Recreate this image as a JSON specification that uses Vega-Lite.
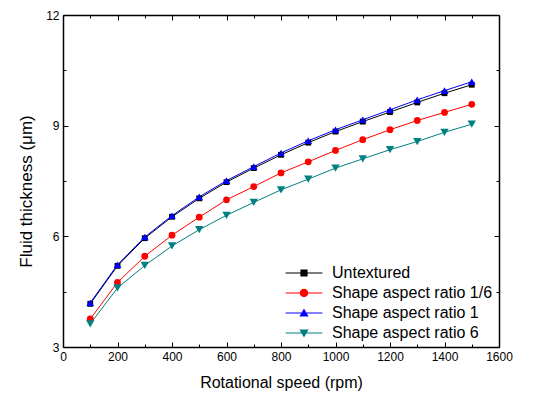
{
  "$schema": "https://vega.github.io/schema/vega-lite/v6.json",
  "width": 436,
  "height": 332,
  "autosize": {"type": "none"},
  "padding": {"left": 63, "top": 15, "right": 43, "bottom": 52},
  "config": {
    "font": "Liberation Sans",
    "view": {"stroke": null},
    "axis": {"grid": false, "domainColor": "#000000", "domainWidth": 1.5, "tickColor": "#000000", "tickWidth": 1, "labelColor": "#000000", "titleColor": "#000000", "labelFont": "Liberation Sans", "titleFont": "Liberation Sans", "titleFontWeight": "normal", "labelFontSize": 12, "titleFontSize": 16}
  },
  "data": {
    "values": [
      {"s": "Untextured", "x": 100, "y": 4.17}, {"s": "Untextured", "x": 200, "y": 5.2}, {"s": "Untextured", "x": 300, "y": 5.95}, {"s": "Untextured", "x": 400, "y": 6.53}, {"s": "Untextured", "x": 500, "y": 7.03}, {"s": "Untextured", "x": 600, "y": 7.47}, {"s": "Untextured", "x": 700, "y": 7.85}, {"s": "Untextured", "x": 800, "y": 8.21}, {"s": "Untextured", "x": 900, "y": 8.54}, {"s": "Untextured", "x": 1000, "y": 8.84}, {"s": "Untextured", "x": 1100, "y": 9.11}, {"s": "Untextured", "x": 1200, "y": 9.37}, {"s": "Untextured", "x": 1300, "y": 9.63}, {"s": "Untextured", "x": 1400, "y": 9.88}, {"s": "Untextured", "x": 1500, "y": 10.11},
      {"s": "Shape aspect ratio 1/6", "x": 100, "y": 3.76}, {"s": "Shape aspect ratio 1/6", "x": 200, "y": 4.75}, {"s": "Shape aspect ratio 1/6", "x": 300, "y": 5.46}, {"s": "Shape aspect ratio 1/6", "x": 400, "y": 6.03}, {"s": "Shape aspect ratio 1/6", "x": 500, "y": 6.52}, {"s": "Shape aspect ratio 1/6", "x": 600, "y": 6.99}, {"s": "Shape aspect ratio 1/6", "x": 700, "y": 7.35}, {"s": "Shape aspect ratio 1/6", "x": 800, "y": 7.72}, {"s": "Shape aspect ratio 1/6", "x": 900, "y": 8.02}, {"s": "Shape aspect ratio 1/6", "x": 1000, "y": 8.33}, {"s": "Shape aspect ratio 1/6", "x": 1100, "y": 8.62}, {"s": "Shape aspect ratio 1/6", "x": 1200, "y": 8.89}, {"s": "Shape aspect ratio 1/6", "x": 1300, "y": 9.14}, {"s": "Shape aspect ratio 1/6", "x": 1400, "y": 9.36}, {"s": "Shape aspect ratio 1/6", "x": 1500, "y": 9.58},
      {"s": "Shape aspect ratio 1", "x": 100, "y": 4.2}, {"s": "Shape aspect ratio 1", "x": 200, "y": 5.23}, {"s": "Shape aspect ratio 1", "x": 300, "y": 5.98}, {"s": "Shape aspect ratio 1", "x": 400, "y": 6.56}, {"s": "Shape aspect ratio 1", "x": 500, "y": 7.07}, {"s": "Shape aspect ratio 1", "x": 600, "y": 7.51}, {"s": "Shape aspect ratio 1", "x": 700, "y": 7.89}, {"s": "Shape aspect ratio 1", "x": 800, "y": 8.26}, {"s": "Shape aspect ratio 1", "x": 900, "y": 8.59}, {"s": "Shape aspect ratio 1", "x": 1000, "y": 8.89}, {"s": "Shape aspect ratio 1", "x": 1100, "y": 9.16}, {"s": "Shape aspect ratio 1", "x": 1200, "y": 9.43}, {"s": "Shape aspect ratio 1", "x": 1300, "y": 9.7}, {"s": "Shape aspect ratio 1", "x": 1400, "y": 9.95}, {"s": "Shape aspect ratio 1", "x": 1500, "y": 10.19},
      {"s": "Shape aspect ratio 6", "x": 100, "y": 3.63}, {"s": "Shape aspect ratio 6", "x": 200, "y": 4.6}, {"s": "Shape aspect ratio 6", "x": 300, "y": 5.21}, {"s": "Shape aspect ratio 6", "x": 400, "y": 5.74}, {"s": "Shape aspect ratio 6", "x": 500, "y": 6.18}, {"s": "Shape aspect ratio 6", "x": 600, "y": 6.57}, {"s": "Shape aspect ratio 6", "x": 700, "y": 6.92}, {"s": "Shape aspect ratio 6", "x": 800, "y": 7.26}, {"s": "Shape aspect ratio 6", "x": 900, "y": 7.55}, {"s": "Shape aspect ratio 6", "x": 1000, "y": 7.85}, {"s": "Shape aspect ratio 6", "x": 1100, "y": 8.1}, {"s": "Shape aspect ratio 6", "x": 1200, "y": 8.35}, {"s": "Shape aspect ratio 6", "x": 1300, "y": 8.57}, {"s": "Shape aspect ratio 6", "x": 1400, "y": 8.82}, {"s": "Shape aspect ratio 6", "x": 1500, "y": 9.04}
    ]
  },
  "resolve": {"axis": {"x": "independent", "y": "independent"}, "scale": {"shape": "independent", "color": "independent"}},
  "layer": [
    {
      "transform": [{"filter": "datum.s === 'Untextured'"}],
      "mark": {"type": "line", "strokeWidth": 1, "clip": true},
      "encoding": {
        "x": {"field": "x", "type": "quantitative", "scale": {"domain": [0, 1600], "nice": false, "zero": false},
          "axis": {"orient": "bottom", "title": "Rotational speed (rpm)", "values": [0,100,200,300,400,500,600,700,800,900,1000,1100,1200,1300,1400,1500,1600],
            "labelExpr": "datum.value % 200 === 0 ? format(datum.value, 'd') : ''",
            "tickSize": {"condition": {"test": "datum.value % 200 === 0", "value": -5}, "value": -3},
            "labelPadding": 9, "titlePadding": 12, "labelFlush": false}},
        "y": {"field": "y", "type": "quantitative", "scale": {"domain": [3, 12], "nice": false, "zero": false},
          "axis": {"orient": "left", "title": "Fluid thickness (μm)", "values": [3,4.5,6,7.5,9,10.5,12],
            "labelExpr": "datum.value % 3 === 0 ? format(datum.value, 'd') : ''",
            "tickSize": {"condition": {"test": "datum.value % 3 === 0", "value": -5}, "value": -3},
            "labelPadding": 9, "titlePadding": 10, "titleFontSize": 17, "titleY": 176, "labelFlush": false}},
        "color": {"field": "s", "type": "nominal", "legend": null,
          "scale": {"domain": ["Untextured", "Shape aspect ratio 1/6", "Shape aspect ratio 1", "Shape aspect ratio 6"], "range": ["#000000", "#ff0000", "#0000ff", "#008080"]}}
      }
    },
    {
      "transform": [{"filter": "datum.s !== 'Untextured'"}],
      "mark": {"type": "line", "strokeWidth": 1, "clip": true},
      "encoding": {
        "x": {"field": "x", "type": "quantitative", "axis": null},
        "y": {"field": "y", "type": "quantitative", "axis": null},
        "color": {"field": "s", "type": "nominal", "legend": null,
          "scale": {"domain": ["Untextured", "Shape aspect ratio 1/6", "Shape aspect ratio 1", "Shape aspect ratio 6"], "range": ["#000000", "#ff0000", "#0000ff", "#008080"]}}
      }
    },
    {
      "mark": {"type": "point", "filled": true, "opacity": 1, "strokeWidth": 0},
      "encoding": {
        "x": {"field": "x", "type": "quantitative",
          "axis": {"orient": "top", "title": null, "labels": false, "values": [0,100,200,300,400,500,600,700,800,900,1000,1100,1200,1300,1400,1500,1600],
            "tickSize": {"condition": {"test": "datum.value % 200 === 0", "value": -5}, "value": -3}}},
        "y": {"field": "y", "type": "quantitative",
          "axis": {"orient": "right", "title": null, "labels": false, "values": [3,4.5,6,7.5,9,10.5,12],
            "tickSize": {"condition": {"test": "datum.value % 3 === 0", "value": -5}, "value": -3}}},
        "color": {"field": "s", "type": "nominal", "legend": null,
          "scale": {"domain": ["Untextured", "Shape aspect ratio 1/6", "Shape aspect ratio 1", "Shape aspect ratio 6"], "range": ["#000000", "#ff0000", "#0000ff", "#008080"]}},
        "shape": {"field": "s", "type": "nominal",
          "scale": {"domain": ["Untextured", "Shape aspect ratio 1/6", "Shape aspect ratio 1", "Shape aspect ratio 6"], "range": ["square", "circle", "triangle-up", "triangle-down"]},
          "legend": null},
        "size": {"field": "s", "type": "nominal", "legend": null,
          "scale": {"domain": ["Untextured", "Shape aspect ratio 1/6", "Shape aspect ratio 1", "Shape aspect ratio 6"], "range": [34, 70, 110, 100]}}
      }
    },
    {
      "mark": {"type": "point", "filled": true, "opacity": 0, "strokeWidth": 0},
      "encoding": {
        "x": {"field": "x", "type": "quantitative", "axis": null},
        "y": {"field": "y", "type": "quantitative", "axis": null},
        "color": {"field": "s", "type": "nominal",
          "scale": {"domain": ["Untextured", "Shape aspect ratio 1/6", "Shape aspect ratio 1", "Shape aspect ratio 6"], "range": ["#000000", "#ff0000", "#0000ff", "#008080"]},
          "legend": {"title": null, "orient": "bottom-right", "offset": 6, "padding": 0, "labelFontSize": 16, "labelLimit": 400, "labelColor": "#000000", "labelFont": "Liberation Sans", "symbolSize": 64, "labelOffset": 20, "rowPadding": 4, "symbolStrokeWidth": 0, "symbolOpacity": 1}},
        "shape": {"field": "s", "type": "nominal",
          "scale": {"domain": ["Untextured", "Shape aspect ratio 1/6", "Shape aspect ratio 1", "Shape aspect ratio 6"],
            "range": ["M-4.6,-0.14H4.6V0.14H-4.6Z M-0.9,-0.9H0.9V0.9H-0.9Z", "M-4.6,-0.14H4.6V0.14H-4.6Z M-1.05,0A1.05,1.05 0 1,1 1.05,0A1.05,1.05 0 1,1 -1.05,0Z", "M-4.6,-0.14H4.6V0.14H-4.6Z M0,-1.1L1.15,0.9L-1.15,0.9Z", "M-4.6,-0.14H4.6V0.14H-4.6Z M0,1.1L-1.15,-0.9L1.15,-0.9Z"]},
          "legend": {"title": null, "orient": "bottom-right", "offset": 6, "padding": 0, "labelFontSize": 16, "labelLimit": 400, "labelColor": "#000000", "labelFont": "Liberation Sans", "symbolSize": 64, "labelOffset": 20, "rowPadding": 4, "symbolStrokeWidth": 0, "symbolOpacity": 1}}
      }
    }
  ]
}
